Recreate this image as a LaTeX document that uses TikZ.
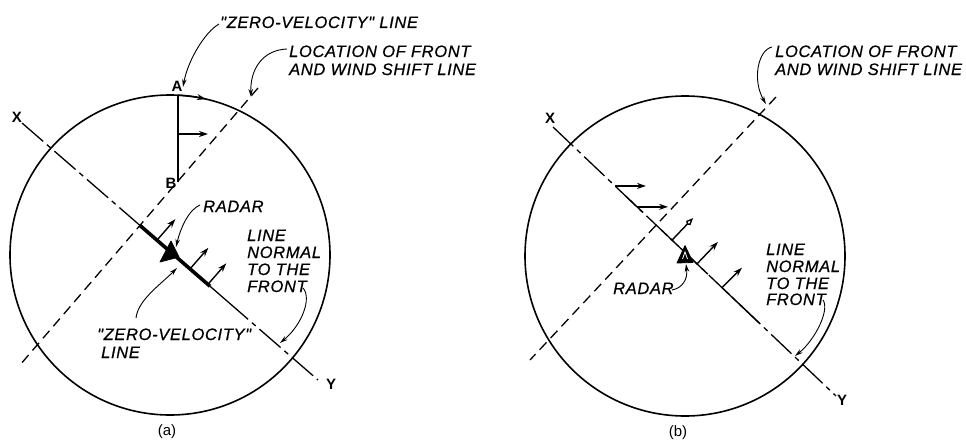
\documentclass[tikz,border=0pt]{standalone}
\usepackage{fontspec}
\setmainfont{Liberation Sans}
\newfontfamily\lerfont[LetterSpace=4,FakeBold=0.6]{Liberation Sans}
\usetikzlibrary{arrows.meta,calc}
\tikzset{
  circ/.style={line width=1.6pt},
  frontline/.style={line width=1.3pt, dash pattern=on 10pt off 6pt},
  xyline/.style={line width=1.3pt, dash pattern=on 28pt off 5pt on 5pt off 5pt},
  solidseg/.style={line width=1.3pt},
  thickseg/.style={line width=3.6pt},
  vec/.style={line width=1.4pt, -{Stealth[length=9pt,width=6pt]}},
  openvec/.style={line width=1.4pt, -{Kite[open,length=9pt,width=6pt]}},
  ptr/.style={line width=0.9pt, -{Stealth[length=8pt,width=4.5pt]}},
  lab/.style={font=\lerfont\fontsize{16.5}{17}\selectfont\itshape, inner sep=0pt, anchor=base west},
  letr/.style={font=\fontsize{15}{17}\selectfont\bfseries, inner sep=0pt, anchor=base},
  radar/.style={fill=black, draw=black, line width=0.8pt, line join=round},
}
\begin{document}
\begin{tikzpicture}[x=1pt,y=-1pt]
\useasboundingbox (0,0) rectangle (966,444);

% ================= (a) =================
\coordinate (Ca) at (170,255);
\draw[circ] (Ca) circle[radius=160];

% front line
\coordinate (Fa1) at (258,88);
\coordinate (Fa2) at (20,365);
\draw[frontline] (Fa1) -- (Fa2);

% X-Y line
\coordinate (Xa) at (22,123);
\coordinate (Ya) at (318,380);
\coordinate (Ia) at ($(Xa)!0.3986!(Ya)$);
\coordinate (Ta) at ($(Xa)!0.635!(Ya)$);
\coordinate (Sa) at ($(Xa)!0.6926!(Ya)$);
\draw[xyline] (Xa) -- (Ia);
\draw[thickseg] (Ia) -- (Ta);
\draw[solidseg] (Ta) -- (Sa);
\draw[xyline] (Sa) -- (Ya);

% A-B line
\coordinate (Apt) at (178,95.2);
\coordinate (Bpt) at (178,182);
\coordinate (Mpt) at (178,134);
\draw[line width=2.4pt] (Apt) -- (Bpt);
\draw[vec] (Apt) arc[start angle=-87.1, end angle=-77, radius=160];
\draw[vec] (Mpt) -- ++(30,0);

% perpendicular arrows
\coordinate (va1) at ($(Xa)!0.456!(Ya)$);
\coordinate (va2) at ($(Xa)!0.5676!(Ya)$);
\coordinate (va3) at ($(Xa)!0.628!(Ya)$);
\draw[vec] (va1) -- ++(18.4,-21.1);
\draw[vec] (va2) -- ++(18.4,-21.1);
\draw[vec] (va3) -- ++(18.4,-21.1);

% radar
\draw[radar] (160,262) -- (171,241) -- (179,257) -- cycle;

% labels
\node[letr] (Alab) at (177,92) {A};
\node[letr] (Blab) at (171,188) {B};
\node[letr] (Xalab) at (17,122) {X};
\node[letr] (Yalab) at (331,389) {Y};
\node[font=\fontsize{15}{17}\selectfont, inner sep=0pt] (capa) at (167,432) {(a)};

\node[lab] (zvtop) at (220,28) {"ZERO-VELOCITY" LINE};
\node[lab] (loca1) at (289,57) {LOCATION OF FRONT};
\node[lab] (loca2) at (289,75) {AND WIND SHIFT LINE};
\node[lab] (rada) at (203,212) {RADAR};
\node[lab] (zvlow1) at (97,340) {"ZERO-VELOCITY"};
\node[lab] (zvlow2) at (101,358) {LINE};
\node[lab] (nora1) at (247,241) {LINE};
\node[lab] (nora2) at (247,258) {NORMAL};
\node[lab] (nora3) at (247,275) {TO THE};
\node[lab] (nora4) at (247,292) {FRONT};

\coordinate (tzv) at (183,87);
\coordinate (tloca) at (251,97);
\coordinate (trada) at (176,247);
\coordinate (tzvl) at (177,268);
\coordinate (tnora) at (280,343);
\draw[ptr] (219,24) .. controls (205,32) and (188,60) .. (tzv);
\draw[ptr] (287,49) .. controls (262,50) and (250,70) .. (tloca);
\draw[ptr] (200,205) .. controls (188,210) and (180,230) .. (trada);
\draw[ptr] (136,318) .. controls (138,300) and (160,285) .. (tzvl);
\draw[ptr] (303,288) .. controls (312,298) and (302,325) .. (tnora);

% ================= (b) =================
\coordinate (Cb) at (685,256);
\draw[circ] (Cb) circle[radius=160];

\coordinate (Fb1) at (776,97);
\coordinate (Fb2) at (530,360);
\draw[frontline] (Fb1) -- (Fb2);

\coordinate (Xb) at (553,127);
\coordinate (Yb) at (836,396);
\draw[xyline] (Xb) -- (Yb);
% solid pieces at arrow bases
\draw[solidseg] ($(Xb)!0.2580!(Yb)$) -- ($(Xb)!0.3180!(Yb)$);
\draw[solidseg] ($(Xb)!0.3845!(Yb)$) -- ($(Xb)!0.4440!(Yb)$);
\draw[solidseg] ($(Xb)!0.4770!(Yb)$) -- ($(Xb)!0.5470!(Yb)$);
\draw[solidseg] ($(Xb)!0.6000!(Yb)$) -- ($(Xb)!0.6680!(Yb)$);
\draw[solidseg] ($(Xb)!0.6560!(Yb)$) -- ($(Xb)!0.7290!(Yb)$);

\coordinate (hb1) at ($(Xb)!0.2191!(Yb)$);
\coordinate (hb2) at ($(Xb)!0.2968!(Yb)$);
\coordinate (pb1) at ($(Xb)!0.4205!(Yb)$);
\coordinate (pb2) at ($(Xb)!0.5088!(Yb)$);
\coordinate (pb3) at ($(Xb)!0.5972!(Yb)$);
\draw[vec] (hb1) -- ++(31,0);
\draw[vec] (hb2) -- ++(31,0);
\draw[openvec] (pb1) -- ++(21,-22);
\draw[vec] (pb2) -- ++(21,-22);
\draw[vec] (pb3) -- ++(20,-20);

% radar (b)
\draw[radar] (677,263) -- (685,245.5) -- (693,262.5) -- cycle;
\draw[white, line width=0.8pt] (682.5,259) -- (685,252) -- (687.5,259);

\node[letr] (Xblab) at (550,123) {X};
\node[letr] (Yblab) at (842,405) {Y};
\node[font=\fontsize{15}{17}\selectfont, inner sep=0pt] (capb) at (678,433) {(b)};

\node[lab] (locb1) at (775,57) {LOCATION OF FRONT};
\node[lab] (locb2) at (775,75) {AND WIND SHIFT LINE};
\node[lab] (radb) at (613,294) {RADAR};
\node[lab] (norb1) at (766,255) {LINE};
\node[lab] (norb2) at (766,272) {NORMAL};
\node[lab] (norb3) at (766,289) {TO THE};
\node[lab] (norb4) at (766,305) {FRONT};

\coordinate (tlocb) at (766,104);
\coordinate (tradb) at (686,264);
\coordinate (tnorb) at (795,356);
\draw[ptr] (772,47) .. controls (758,50) and (752,80) .. (tlocb);
\draw[ptr] (672,290) .. controls (682,288) and (688,280) .. (tradb);
\draw[ptr] (823,300) .. controls (830,310) and (815,340) .. (tnorb);
\end{tikzpicture}
\end{document}
